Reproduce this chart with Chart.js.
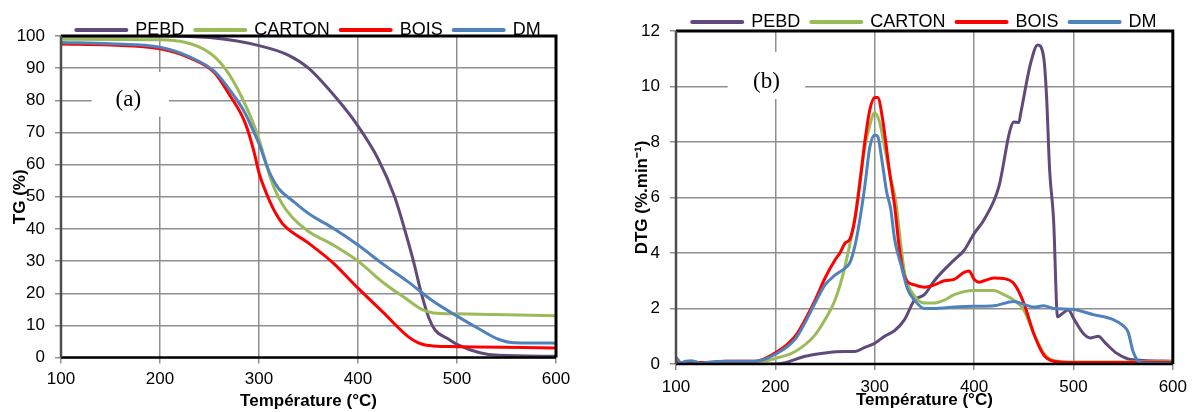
<!DOCTYPE html>
<html>
<head>
<meta charset="utf-8">
<script src="https://cdn.jsdelivr.net/npm/chart.js"></script>
<style>
  html, body { margin: 0; padding: 0; background: #fff; }
  .panel { position: absolute; top: 0; width: 597px; height: 412px; }
  #panel-tg { left: 0; }
  #panel-dtg { left: 597px; }
</style>
</head>
<body>
<div class="panel" id="panel-tg"><canvas id="chart-tg" width="597" height="412"></canvas></div>
<div class="panel" id="panel-dtg"><canvas id="chart-dtg" width="597" height="412"></canvas></div>
<script>
const seriesNames = ['PEBD', 'CARTON', 'BOIS', 'DM'];
const seriesColors = ['#604a7b', '#9bbb59', '#ff0000', '#4f81bd'];

const tempTicks = [100, 200, 300, 400, 500, 600];
const tgTicks = [0, 10, 20, 30, 40, 50, 60, 70, 80, 90, 100];
const dtgTicks = [0, 2, 4, 6, 8, 10, 12];

// TG (%) curves
const pebdTgTemp = [100, 200, 250, 300, 330, 350, 380, 400, 420, 437, 447, 456, 464, 472, 478, 490, 500, 523, 542, 600];
const pebdTg = [100, 100, 99.5, 97, 94, 90, 80, 72, 62, 50, 40, 30, 20, 12, 8.5, 6, 4.1, 1.5, 0.7, 0.4];

const cartonTgTemp = [100, 200, 250, 270, 290, 300, 310, 315, 323, 333, 350, 375, 400, 426, 450, 465, 476, 500, 550, 600];
const cartonTg = [99, 98.8, 94.8, 88, 76, 67.8, 57.4, 53, 48, 43.8, 39.2, 35, 30, 23.2, 18, 14.9, 13.9, 13.6, 13.3, 13];

const boisTgTemp = [100, 150, 200, 230, 255, 270, 286, 295, 300, 305, 311, 317, 325, 350, 375, 400, 426, 450, 461, 476, 500, 600];
const boisTg = [97.5, 97.2, 96, 93.2, 88.6, 81.8, 73, 64, 57.4, 53, 48.5, 44.8, 41.2, 35.6, 29.4, 21.6, 13.9, 6.7, 4.6, 3.6, 3.4, 3];

const dmTgTemp = [100, 150, 200, 230, 255, 270, 286, 295, 300, 310, 320, 333, 350, 375, 400, 426, 450, 476, 500, 523, 542, 558, 600];
const dmTg = [98, 97.6, 96.5, 93.5, 89, 83.4, 76, 70, 66.5, 58, 52.5, 49, 44.8, 40.2, 35, 28.9, 23.7, 17.5, 12.9, 8.8, 5.7, 4.6, 4.5];

// DTG (%.min-1) curves
const pebdDtgTemp = [100, 150, 200, 210, 230, 250, 270, 280, 290, 300, 310, 320, 330, 340, 350, 360, 370, 380, 390, 400, 410, 425, 436, 440, 445, 447, 457, 464, 470, 473, 476, 480, 484, 490, 495, 500, 510, 517, 525, 532, 543, 555, 570, 600];
const pebdDtg = [0, 0, 0, 0.05, 0.28, 0.4, 0.45, 0.45, 0.6, 0.75, 1.0, 1.2, 1.6, 2.3, 2.5, 3.0, 3.4, 3.75, 4.1, 4.7, 5.2, 6.4, 8.4, 8.72, 8.7, 9.05, 10.85, 11.5, 11.06, 9.6, 7.0, 5.2, 1.7, 1.85, 1.95, 1.65, 1.1, 0.94, 1.0, 0.76, 0.4, 0.18, 0.13, 0.1];

const cartonDtgTemp = [100, 150, 180, 200, 220, 240, 250, 260, 270, 280, 285, 290, 295, 300, 305, 310, 316, 321, 325, 330, 340, 350, 360, 370, 380, 400, 420, 430, 440, 450, 460, 470, 480, 500, 600];
const cartonDtg = [0.02, 0.05, 0.05, 0.2, 0.45, 1.05, 1.6, 2.3, 3.5, 5.3, 6.6, 7.8, 8.6, 9.05, 8.7, 7.8, 6.7, 5.9, 4.7, 3.3, 2.45, 2.2, 2.2, 2.3, 2.5, 2.65, 2.65, 2.5, 2.3, 1.95, 1.1, 0.4, 0.13, 0.07, 0.08];

const boisDtgTemp = [100, 105, 110, 130, 150, 180, 200, 210, 220, 230, 240, 250, 260, 265, 270, 275, 280, 285, 290, 295, 300, 303, 308, 315, 320, 325, 330, 340, 350, 360, 370, 380, 390, 395, 400, 405, 410, 420, 430, 440, 450, 460, 470, 480, 500, 600];
const boisDtg = [0.1, 0.0, 0.05, 0.05, 0.1, 0.1, 0.4, 0.65, 1.0, 1.6, 2.3, 3.1, 3.75, 4.0, 4.35, 4.5, 5.2, 6.5, 8.0, 9.15, 9.6, 9.6, 8.8, 6.9, 5.7, 4.1, 3.15, 2.85, 2.77, 2.85, 3.0, 3.05, 3.3, 3.35, 3.05, 2.95, 3.0, 3.1, 3.08, 2.9, 2.2, 1.1, 0.33, 0.1, 0.05, 0.05];

const dmDtgTemp = [100, 102, 105, 110, 115, 120, 125, 130, 150, 180, 200, 220, 230, 240, 250, 260, 270, 275, 280, 285, 290, 295, 300, 303, 307, 312, 316, 320, 327, 333, 340, 350, 360, 380, 400, 420, 440, 450, 460, 470, 480, 500, 520, 540, 550, 555, 560, 565, 570, 600];
const dmDtg = [0.25, 0.15, 0.05, 0.1, 0.12, 0.08, 0.02, 0.05, 0.1, 0.1, 0.35, 0.9, 1.5, 2.2, 2.85, 3.2, 3.45, 3.65, 4.25, 5.2, 6.4, 7.8, 8.25, 8.2, 7.4, 6.2, 5.6, 4.5, 3.5, 2.7, 2.3, 2.0, 2.0, 2.05, 2.08, 2.1, 2.25, 2.15, 2.05, 2.1, 2.0, 1.96, 1.78, 1.6, 1.38, 1.15, 0.45, 0.1, 0.03, 0.02];

// panel tags (a) / (b), in data units: [text x, text y], box [x0, x1, y0, y1]
const tgTag = { text: '(a)', at: [168, 80.2], box: [131, 209, 74.9, 88.8] };
const dtgTag = { text: '(b)', at: [191, 10.15], box: [152, 230, 9.55, 11.25] };

Chart.defaults.font.family = '"Liberation Sans", Arial, sans-serif';
Chart.defaults.color = '#000';

// legend in the original sits tighter on the plot than Chart.js allows
const legendTrim = {
  id: 'legendTrim',
  beforeLayout(chart, args, opts) {
    const legend = chart.legend;
    if (!legend || legend._trimmed) return;
    const fit = legend.fit;
    legend.fit = function () {
      fit.call(this);
      this.height -= opts.trim;
    };
    legend._trimmed = true;
  }
};

const panelDecor = {
  id: 'panelDecor',
  beforeDatasetsDraw(chart, args, opts) {
    const { ctx, scales: { x, y } } = chart;
    const tag = opts.tag;
    const left = x.getPixelForValue(tag.box[0]);
    const right = x.getPixelForValue(tag.box[1]);
    const top = y.getPixelForValue(tag.box[3]);
    const bottom = y.getPixelForValue(tag.box[2]);

    ctx.save();
    ctx.fillStyle = '#fff';
    ctx.fillRect(left, top, right - left, bottom - top);
    ctx.fillStyle = '#000';
    ctx.font = '23px "Liberation Serif", "Times New Roman", serif';
    ctx.textAlign = 'center';
    ctx.textBaseline = 'middle';
    ctx.fillText(tag.text, x.getPixelForValue(tag.at[0]), y.getPixelForValue(tag.at[1]));
    ctx.restore();
  },
  afterDatasetsDraw(chart) {
    const { ctx, chartArea: a } = chart;

    ctx.save();
    ctx.strokeStyle = '#000';
    ctx.lineWidth = 3;
    ctx.beginPath();
    ctx.moveTo(a.left, a.top);
    ctx.lineTo(a.right, a.top);
    ctx.lineTo(a.right, a.bottom);
    ctx.stroke();

    ctx.lineWidth = 2.5;
    ctx.beginPath();
    ctx.moveTo(a.left, a.bottom);
    ctx.lineTo(a.right, a.bottom);
    ctx.stroke();

    ctx.strokeStyle = '#4d4d4d';
    ctx.beginPath();
    ctx.moveTo(a.left, a.top);
    ctx.lineTo(a.left, a.bottom);
    ctx.stroke();
    ctx.restore();
  }
};

function makeDatasets(series) {
  return series.map((s, i) => ({
    label: seriesNames[i],
    data: s[0].map((t, k) => ({ x: t, y: s[1][k] })),
    borderColor: seriesColors[i],
    backgroundColor: seriesColors[i],
    borderWidth: 3,
    borderCapStyle: 'round',
    borderJoinStyle: 'round',
    pointRadius: 0,
    cubicInterpolationMode: 'monotone',
    order: series.length - 1 - i
  }));
}

function buildChart(canvasId, cfg) {
  return new Chart(document.getElementById(canvasId), {
    type: 'line',
    data: { datasets: makeDatasets(cfg.series) },
    plugins: [legendTrim, panelDecor],
    options: {
      responsive: false,
      animation: false,
      events: [],
      layout: { padding: cfg.padding },
      plugins: {
        tooltip: { enabled: false },
        legendTrim: { trim: cfg.legendTrim },
        panelDecor: { tag: cfg.tag },
        legend: {
          position: 'top',
          fullSize: false,
          labels: {
            font: { size: 18 },
            color: '#000',
            usePointStyle: true,
            pointStyle: 'line',
            pointStyleWidth: 50,
            padding: 11,
            sort: (a, b) => a.datasetIndex - b.datasetIndex,
            generateLabels: chart => Chart.defaults.plugins.legend.labels.generateLabels(chart)
              .map(item => ({ ...item, lineWidth: 4, lineCap: 'round' }))
          }
        }
      },
      scales: {
        x: {
          type: 'linear',
          min: 100,
          max: 600,
          afterBuildTicks: axis => { axis.ticks = tempTicks.map(v => ({ value: v })); },
          afterFit: axis => { axis.height = cfg.xHeight; },
          border: { display: false },
          grid: { color: '#8f8f8f', lineWidth: 1.5, tickLength: 6, tickColor: '#8f8f8f' },
          ticks: { font: { size: 17 }, padding: cfg.xTickPad, maxRotation: 0 },
          title: {
            display: true,
            text: 'Température (°C)',
            font: { size: 17, weight: 'bold' },
            padding: { top: 0, bottom: cfg.xTitlePad }
          }
        },
        y: {
          min: 0,
          max: cfg.yMax,
          afterBuildTicks: axis => { axis.ticks = cfg.yTicks.map(v => ({ value: v })); },
          afterFit: axis => { axis.width = cfg.yWidth; },
          border: { display: false },
          grid: { color: '#8f8f8f', lineWidth: 1.5, tickLength: 6, tickColor: '#8f8f8f' },
          ticks: { font: { size: 17 }, padding: 10 },
          title: {
            display: true,
            text: cfg.yTitle,
            font: { size: 17, weight: 'bold' },
            padding: { top: cfg.yTitlePad, bottom: 0 }
          }
        }
      }
    }
  });
}

window.addEventListener('DOMContentLoaded', () => {
  buildChart('chart-tg', {
    series: [[pebdTgTemp, pebdTg], [cartonTgTemp, cartonTg], [boisTgTemp, boisTg], [dmTgTemp, dmTg]],
    yTicks: tgTicks,
    yMax: 100,
    yTitle: 'TG (%)',
    tag: tgTag,
    padding: { top: 10, left: 0, right: 41, bottom: 0 },
    legendTrim: 13,
    xHeight: 54.4,
    xTickPad: 6,
    xTitlePad: 0,
    yWidth: 61,
    yTitlePad: 10
  });

  buildChart('chart-dtg', {
    series: [[pebdDtgTemp, pebdDtg], [cartonDtgTemp, cartonDtg], [boisDtgTemp, boisDtg], [dmDtgTemp, dmDtg]],
    yTicks: dtgTicks,
    yMax: 12,
    yTitle: 'DTG (%.min⁻¹)',
    tag: dtgTag,
    padding: { top: 2, left: 0, right: 17, bottom: 0 },
    legendTrim: 10,
    xHeight: 48,
    xTickPad: 7,
    xTitlePad: 1,
    yWidth: 79,
    yTitlePad: 35
  });
});
</script>
</body>
</html>
